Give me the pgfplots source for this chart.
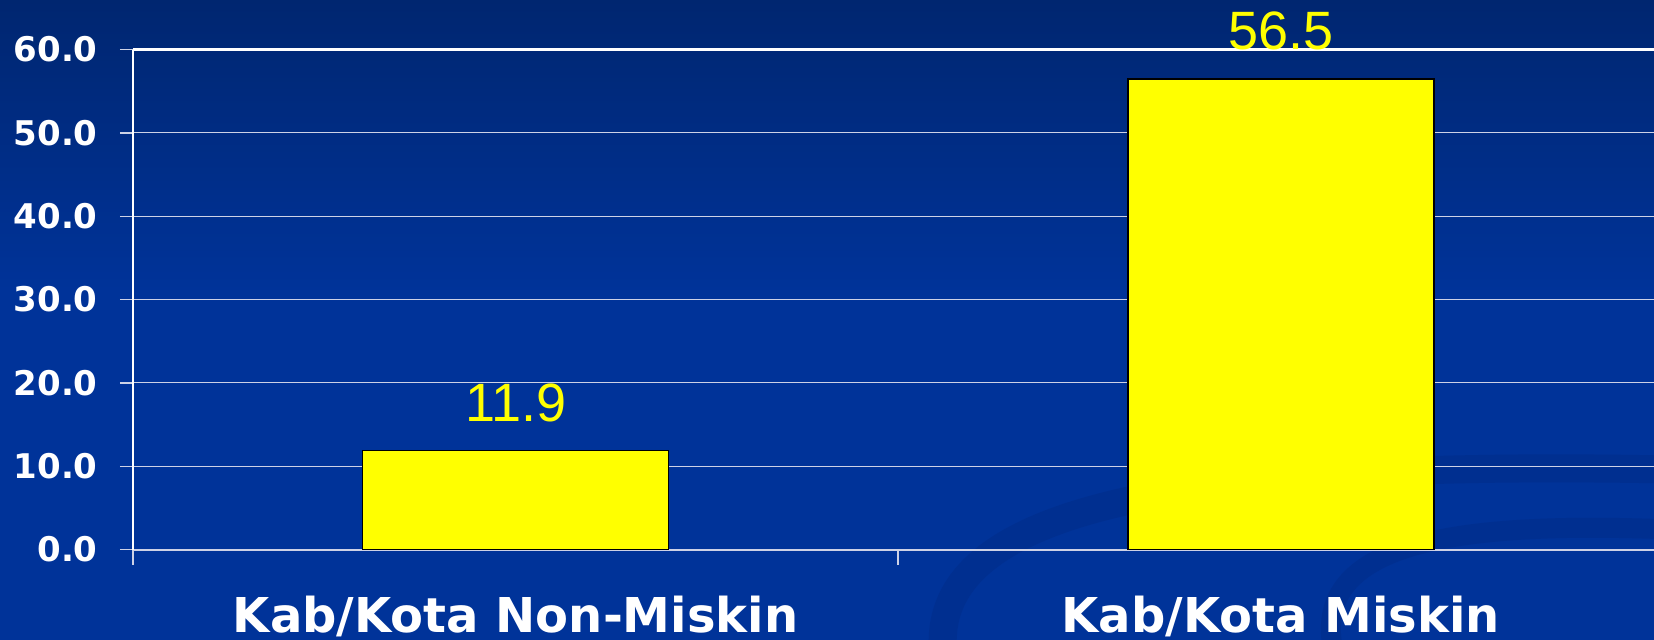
\documentclass[border=0pt]{standalone}
\usepackage{pgfplots}
\pgfplotsset{compat=1.18}
\usepackage{fontspec}
\setmainfont{DejaVu Sans}
\newfontfamily\arial{Liberation Sans}
\definecolor{bgtop}{RGB}{0,38,112}
\definecolor{bgbot}{RGB}{0,51,153}
\definecolor{swoosh}{RGB}{0,45,138}
\definecolor{gridc}{RGB}{205,210,230}
\definecolor{baryellow}{RGB}{255,255,0}
\begin{document}
\begin{tikzpicture}
\useasboundingbox (-66.5pt,-45.2pt) rectangle (760.5pt,274.8pt);
\clip (-66.5pt,-45.2pt) rectangle (760.5pt,274.8pt);
\fill[bgbot] (-66.5pt,-45.2pt) rectangle (760.5pt,274.8pt);
\shade[top color=bgtop, bottom color=bgbot] (-66.5pt,130pt) rectangle (760.5pt,274.8pt);
% faint decorative swooshes
\draw[swoosh, line width=14pt, opacity=0.6] (405pt,-50pt) .. controls (400pt,20pt) and (520pt,45pt) .. (770pt,40pt);
\draw[swoosh, line width=10pt, opacity=0.6] (600pt,-50pt) .. controls (590pt,0pt) and (650pt,15pt) .. (770pt,10pt);
\begin{axis}[
  at={(0,0)}, anchor=south west,
  scale only axis, width=760.5pt, height=250pt,
  xmin=-0.5, xmax=1.488, ymin=0, ymax=60,
  clip=false,
  axis x line=bottom, axis y line=left,
  x axis line style={-, draw=gridc, line width=1pt},
  y axis line style={-, draw=white, line width=1pt},
  ytick={0,10,20,30,40,50},
  extra y ticks={60},
  extra y tick style={grid style={white, line width=1.2pt}},
  ymajorgrids,
  grid style={gridc, line width=0.5pt},
  tick align=outside,
  major tick length=6.5pt,
  ytick style={draw=gridc, line width=0.6pt},
  y tick label style={font=\fontsize{17}{17}\selectfont\bfseries, text=white, anchor=east, inner sep=0pt, xshift=-11pt},
  yticklabel={\pgfmathprintnumber[fixed, fixed zerofill, precision=1]{\tick}},
  /pgf/number format/assume math mode=true,
  xtick={0,1},
  xticklabels={Kab/Kota Non-Miskin, Kab/Kota Miskin},
  xtick style={draw=none},
  x tick label style={font=\fontsize{24}{24}\selectfont\bfseries, text=white, anchor=base, inner sep=0pt, yshift=-35pt},
  extra x ticks={-0.5,0.5},
  extra x tick labels={},
  extra x tick style={xtick style={draw=gridc, line width=0.6pt}, major tick length=7.5pt},
]
\addplot[ybar, bar width=0.4, fill=baryellow, draw=black, line width=0.9pt,
  nodes near coords={\pgfmathprintnumber[fixed, fixed zerofill, precision=1]{\pgfplotspointmeta}},
  every node near coord/.append style={font=\arial\fontsize{27}{27}\selectfont, text=baryellow, anchor=base, inner sep=0pt, yshift=14.5pt}]
  coordinates {(0,11.9) (1,56.5)};
\end{axis}
\end{tikzpicture}
\end{document}
